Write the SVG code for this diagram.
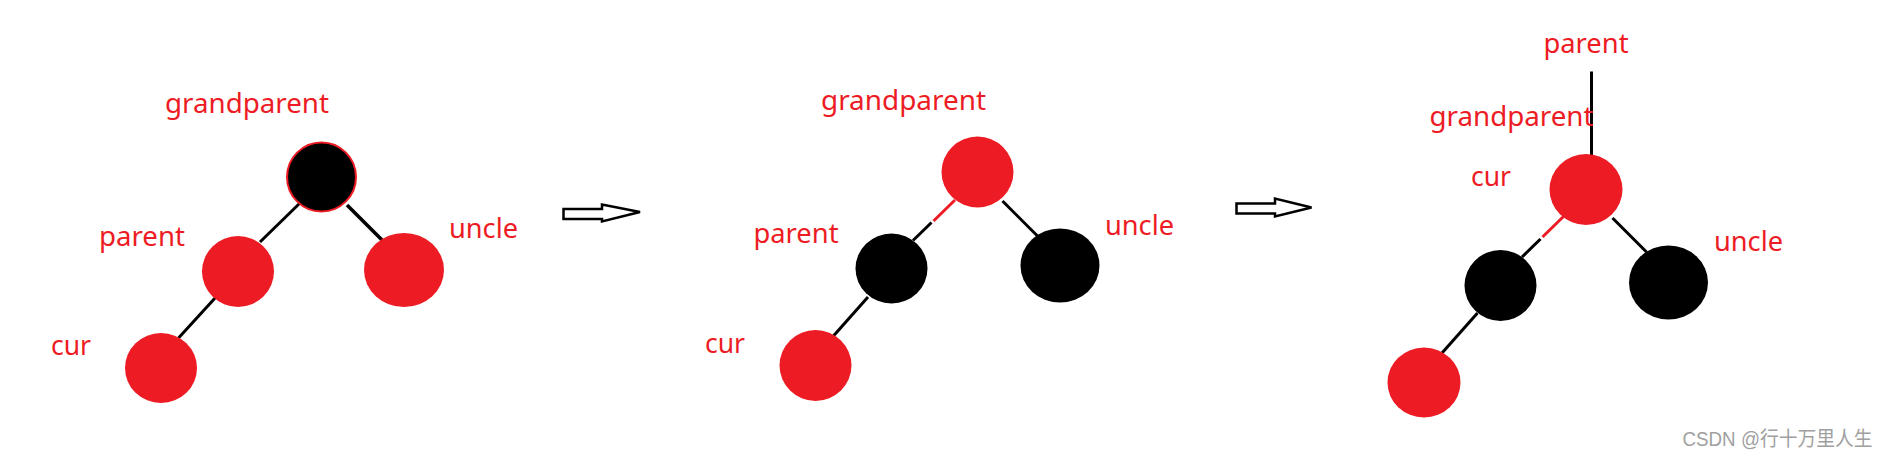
<svg xmlns="http://www.w3.org/2000/svg" width="1888" height="457" viewBox="0 0 1888 457">
<style>
.lbl{font-family:"Noto Sans","Open Sans","Liberation Sans",sans-serif;font-size:27px;fill:#ED1C24}
.red{fill:#ED1C24}
.blk{fill:#000}
.edge{stroke:#000;stroke-width:3;fill:none}
.edger{stroke:#ED1C24;stroke-width:3;fill:none}
.arrow{fill:#fff;stroke:#000;stroke-width:2.5;stroke-linejoin:miter}
.wm{font-family:"Liberation Sans","Noto Sans CJK SC",sans-serif;font-size:20px;fill:#a0a0a0}
</style>
<rect width="1888" height="457" fill="#fff"/>
<g id="connectors">
<line class="edge" x1="300" y1="203" x2="260" y2="242"/>
<line class="edge" x1="347" y1="205" x2="382" y2="240" style="stroke-width:3.5"/>
<line class="edge" x1="216" y1="297" x2="178.5" y2="338"/>
<line class="edger" x1="955" y1="200" x2="933.5" y2="221"/>
<line class="edge" x1="931.5" y1="222.5" x2="913" y2="240.5"/>
<line class="edge" x1="1002.5" y1="201" x2="1037.5" y2="236"/>
<line class="edge" x1="868" y1="297" x2="832.5" y2="337"/>
<line class="edge" x1="1591.5" y1="71.5" x2="1591.5" y2="155"/>
<line class="edger" x1="1564" y1="216" x2="1542.5" y2="237"/>
<line class="edge" x1="1540.5" y1="239" x2="1522" y2="257"/>
<line class="edge" x1="1612.5" y1="218" x2="1646.5" y2="252"/>
<line class="edge" x1="1477.5" y1="313" x2="1442" y2="353"/>
</g>
<g id="arrow1"><path class="arrow" d="M563.5,209 L602,209 L602,204.5 L640,212 L602,221.5 L602,219 L563.5,219 Z"/></g>
<g id="arrow2"><path class="arrow" d="M1236.5,203.5 L1275,203.5 L1275,198.5 L1311.5,207.5 L1275,216.5 L1275,213.5 L1236.5,213.5 Z"/></g>
<g id="p1-grandparent"><circle cx="321.5" cy="177" r="34.5" fill="#000" stroke="#ED1C24" stroke-width="2"/><text class="lbl" x="165" y="113" textLength="164" lengthAdjust="spacingAndGlyphs">grandparent</text></g>
<g id="p1-parent"><ellipse class="red" cx="238" cy="271.5" rx="36" ry="35.5"/><text class="lbl" x="99" y="246" textLength="86" lengthAdjust="spacingAndGlyphs">parent</text></g>
<g id="p1-uncle"><ellipse class="red" cx="404" cy="270" rx="40" ry="37"/><text class="lbl" x="449" y="238" textLength="69" lengthAdjust="spacingAndGlyphs">uncle</text></g>
<g id="p1-cur"><ellipse class="red" cx="161" cy="368" rx="36" ry="35"/><text class="lbl" x="51" y="355" textLength="40" lengthAdjust="spacingAndGlyphs">cur</text></g>
<g id="p2-grandparent"><ellipse class="red" cx="977.5" cy="172" rx="36" ry="35.5"/><text class="lbl" x="821" y="110" textLength="165" lengthAdjust="spacingAndGlyphs">grandparent</text></g>
<g id="p2-parent"><ellipse class="blk" cx="891.5" cy="268.5" rx="36" ry="35"/><text class="lbl" x="753.5" y="243" textLength="85" lengthAdjust="spacingAndGlyphs">parent</text></g>
<g id="p2-uncle"><ellipse class="blk" cx="1060" cy="265.5" rx="39.5" ry="37"/><text class="lbl" x="1105" y="235" textLength="69" lengthAdjust="spacingAndGlyphs">uncle</text></g>
<g id="p2-cur"><ellipse class="red" cx="815.5" cy="365.5" rx="36" ry="35.5"/><text class="lbl" x="705" y="352.5" textLength="40" lengthAdjust="spacingAndGlyphs">cur</text></g>
<g id="p3-parent-label"><text class="lbl" x="1543.5" y="52.5" textLength="85" lengthAdjust="spacingAndGlyphs">parent</text></g>
<g id="p3-cur"><ellipse class="red" cx="1586" cy="189.5" rx="36.5" ry="35.5"/><text class="lbl" x="1429.5" y="126" textLength="164" lengthAdjust="spacingAndGlyphs">grandparent</text><text class="lbl" x="1471" y="186" textLength="40" lengthAdjust="spacingAndGlyphs">cur</text></g>
<g id="p3-left"><ellipse class="blk" cx="1500.5" cy="285.5" rx="36" ry="35.5"/></g>
<g id="p3-uncle"><ellipse class="blk" cx="1668.5" cy="282.5" rx="39.5" ry="37"/><text class="lbl" x="1714" y="250.5" textLength="69" lengthAdjust="spacingAndGlyphs">uncle</text></g>
<g id="p3-bottom"><ellipse class="red" cx="1424" cy="382.5" rx="36.5" ry="35"/></g>
<g id="watermark"><text class="wm" x="1682.5" y="446" textLength="190" lengthAdjust="spacingAndGlyphs">CSDN @行十万里人生</text></g>
</svg>
